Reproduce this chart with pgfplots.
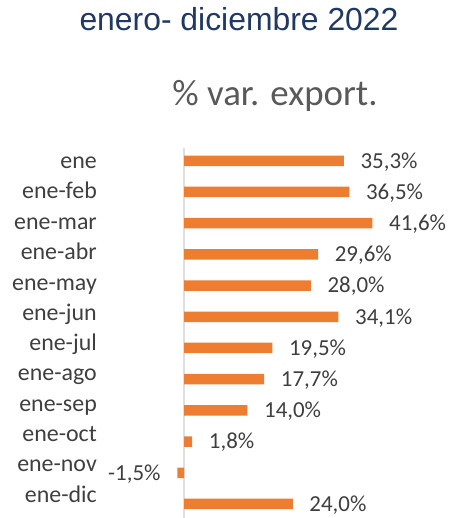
\documentclass[border=0pt]{standalone}
\usepackage{pgfplots}
\pgfplotsset{compat=1.18}
\usepackage{fontspec}
\setmainfont{Carlito}
\newfontfamily\arialfont{Liberation Sans}
\definecolor{barorange}{HTML}{ED7D31}
\definecolor{labgray}{HTML}{3F3F3F}
\definecolor{subgray}{HTML}{595959}
\definecolor{titleblue}{HTML}{1F3864}

\begin{document}
\begin{tikzpicture}[x=1bp,y=1bp]
\useasboundingbox (0,0) rectangle (451,518);
\node[font=\arialfont\fontsize{32}{35}\selectfont, text=titleblue] at (239,499) {enero- diciembre 2022};
\node[font=\fontsize{37}{40}\selectfont, text=subgray] at (275,422) {\% var. export.};
\begin{axis}[
  at={(175bp,0bp)}, anchor=south west,
  scale only axis,
  width=235.5bp, height=372.8bp,
  xmin=-2, xmax=50,
  ymin=-0.5, ymax=11.45,
  y dir=reverse,
  xbar, bar width=10.5bp,
  hide x axis,
  axis y line*=left,
  y axis line style={draw=none},
  ytick={0.06,1.03,2.01,2.98,3.95,4.92,5.89,6.86,7.83,8.80,9.78,10.75},
  yticklabels={ene,ene-feb,ene-mar,ene-abr,ene-may,ene-jun,ene-jul,ene-ago,ene-sep,ene-oct,ene-nov,ene-dic},
  major tick length=0pt,
  yticklabel style={font=\fontsize{24}{26}\selectfont, text=labgray, anchor=east,
    inner sep=0pt, text height=13bp, text depth=1bp, xshift=-78bp},
  /pgf/number format/assume math mode=true,
  nodes near coords={\pgfmathprintnumber[fixed,fixed zerofill,precision=1,use comma,assume math mode=true]{\pgfplotspointmeta}\%},
  nodes near coords style={font=\fontsize{23}{25}\selectfont, text=labgray,
    inner xsep=16.5bp, inner ysep=0pt, text height=14.5bp, text depth=0bp},
  clip=false,
]
\draw[gray!25, line width=1.5bp] (axis cs:0,-0.4) -- (axis cs:0,11.45);
\addplot[fill=barorange, draw=none] coordinates {
  (35.3,0) (36.5,1) (41.6,2) (29.6,3) (28.0,4) (34.1,5)
  (19.5,6) (17.7,7) (14.0,8) (1.8,9) (-1.5,10) (24.0,11)};
\end{axis}
\end{tikzpicture}
\end{document}
